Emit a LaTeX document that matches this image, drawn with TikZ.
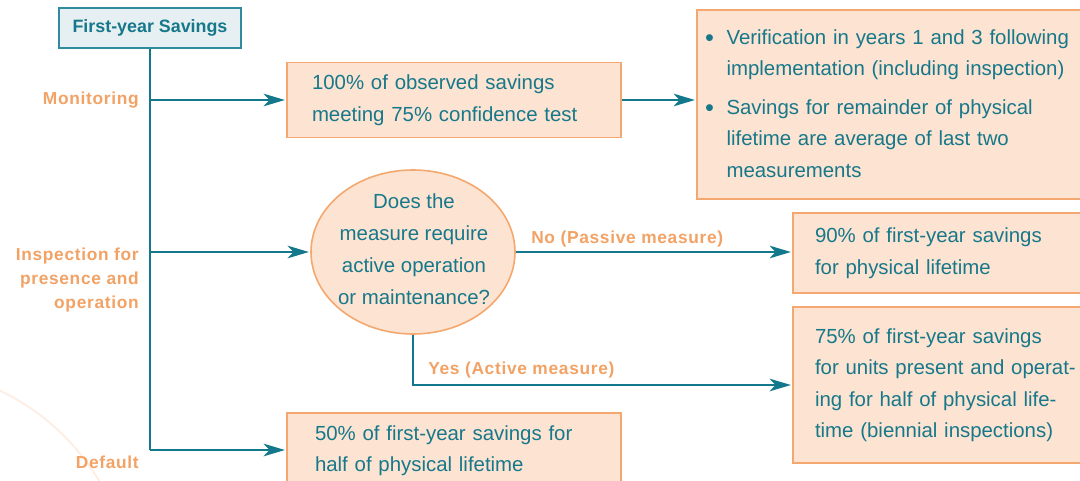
\documentclass[tikz,border=0pt]{standalone}
\usepackage{fontspec}
\setmainfont{Liberation Sans}
\newfontfamily\labfont{Liberation Sans}[LetterSpace=4]
\usetikzlibrary{arrows.meta,shapes.geometric,calc}
\definecolor{tealline}{HTML}{13788B}
\definecolor{tealtext}{HTML}{16788A}
\definecolor{orangetext}{HTML}{F2A265}
\definecolor{boxfill}{HTML}{FDE3D1}
\definecolor{boxline}{HTML}{F4A870}
\definecolor{topfill}{HTML}{E6EFF1}
\definecolor{topline}{HTML}{2E8C9C}
\definecolor{arccol}{HTML}{FDEDE2}
\newcommand\bigbul{\raisebox{-1.8pt}{\fontsize{19pt}{19pt}\selectfont\textbullet}}
\begin{document}
\begin{tikzpicture}[x=0.75pt,y=-0.75pt,
  bodyfont/.style={font=\fontsize{15.3pt}{23.6pt}\selectfont},
  box/.style={draw=boxline, fill=boxfill, line width=1.2pt, align=left,
    bodyfont, text=tealtext, inner ysep=0pt},
  lab/.style={font=\labfont\bfseries\fontsize{13pt}{18pt}\selectfont, text=orangetext, inner sep=0pt},
  conn/.style={draw=tealline, line width=1.4pt},
  arr/.style={conn, -{Stealth[length=16pt, width=9.5pt, inset=4.5pt]}, shorten >=1pt}
]
\clip (0,0) rectangle (1080,481);
\fill[white] (0,0) rectangle (1080,481);
% faint background arc
\draw[arccol, line width=1.3pt] (-100,600) circle (232);

% top box
\node[draw=topline, fill=topfill, line width=1.2pt, minimum width={182*0.75pt},
  minimum height={40*0.75pt}, inner sep=0pt, text=tealtext,
  font=\bfseries\fontsize{13.4pt}{16pt}\selectfont] (top) at (150,28) {First-year Savings};

% boxes
\node[box, text width={380*0.75pt}, inner xsep={8*0.75pt}, minimum height={189*0.75pt}]
  (b2) at (895,104.5) {\begin{tabular}{@{}l@{\hspace{9.5pt}}l@{}}
  \bigbul & Verification in years 1 and 3 following\\
   & implementation (including inspection)\\[5pt]
  \bigbul & Savings for remainder of physical\\
   & lifetime are average of last two\\
   & measurements
  \end{tabular}};
\node[box, text width={284*0.75pt}, inner xsep={25*0.75pt}, minimum height={75*0.75pt}]
  (b1) at (454,100) {100\% of observed savings\\meeting 75\% confidence test};
\node[box, text width={276*0.75pt}, inner xsep={22*0.75pt}, minimum height={80*0.75pt}]
  (b3) at (953,253) {90\% of first-year savings\\for physical lifetime};
\node[box, text width={276*0.75pt}, inner xsep={22*0.75pt}, minimum height={156*0.75pt}]
  (b4) at (953,385) {75\% of first-year savings\\for units present and operat-\\ing for half of physical life-\\time (biennial inspections)};
\node[box, text width={278*0.75pt}, inner xsep={28*0.75pt}, minimum height={75*0.75pt}]
  (b5) at (454,450.5) {50\% of first-year savings for\\half of physical lifetime};

% decision ellipse
\node[ellipse, draw=boxline, fill=boxfill, line width=1.2pt, minimum width={204*0.75pt},
  minimum height={164*0.75pt}, inner sep=0pt] (q) at (413,252) {};
\node[text=tealtext, align=center, inner sep=0pt,
  font=\fontsize{15.3pt}{24pt}\selectfont] (qt) at ($(q.center)+(1,-3)$) {Does the\\measure require\\active operation\\or maintenance?};

% left labels
\node[lab, anchor=east] (lm) at (139,100) {Monitoring};
\node[lab, anchor=east, align=right] (li) at (139,280) {Inspection for\\presence and\\operation};
\node[lab, anchor=east] (ld) at (139,462) {Default};

% branch labels
\node[lab, anchor=base west] (lno) at (531,243) {No (Passive measure)};
\node[lab, anchor=base west] (lyes) at (428,374) {Yes (Active measure)};

% trunk and connectors
\coordinate (m) at (150,100);
\coordinate (i) at (150,252);
\coordinate (d) at (150,450);
\draw[conn] (top.south) -- (d);
\draw[arr] (m) -- (b1.west |- m);
\draw[arr] (b1.east) -- (b1.east -| b2.west);
\draw[arr] (i) -- (q.west);
\draw[arr] (q.east) -- (q.east -| b3.west);
\draw[arr] (q.south) |- (b4.west);
\draw[arr] (d) -- (b5.west |- d);
\end{tikzpicture}
\end{document}
